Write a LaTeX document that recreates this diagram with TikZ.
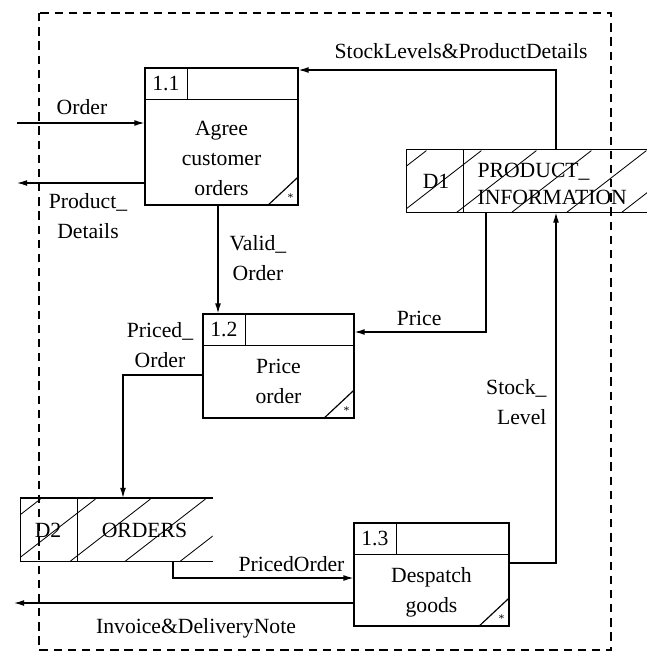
\documentclass[tikz,border=0pt]{standalone}
\usepackage{fontspec}
\setmainfont{Liberation Serif}
\usetikzlibrary{arrows.meta,calc}

\begin{document}
\begin{tikzpicture}[x=0.6pt, y=-0.6pt, font=\fontsize{13}{18}\selectfont,
  line width=0.7pt,
  flow/.style={-{Latex[length=6pt,width=3.5pt]}},
  procbox/.style={draw, inner sep=0pt},
  storebox/.style={inner sep=0pt, minimum height=37.2pt},
  hatch/.style={line width=0.5pt},
  lbl/.style={align=center, inner sep=0pt}]
  \useasboundingbox (0,0) rectangle (646,662);
  \draw[dash pattern=on 5pt off 3.5pt] (39,13) rectangle (611,650);

  \node[procbox, minimum width=91.8pt, minimum height=82.2pt] (p1) at (221.5,136.5) {};
  \node[procbox, minimum width=90.6pt, minimum height=62.4pt] (p2) at (278.5,366) {};
  \node[procbox, minimum width=93pt, minimum height=61.8pt] (p3) at (431.5,574.5) {};
  \foreach \p/\id in {p1/1.1, p2/1.2, p3/1.3} {
    \draw ($(\p.north west)+(0,32)$) -- ($(\p.north east)+(0,32)$);
    \draw ($(\p.north west)+(43,0)$) -- ($(\p.north west)+(43,32)$);
    \node (\p id) at ($(\p.north west)+(21.5,16)$) {\id};
    \draw ($(\p.south east)+(-31,0)$) -- ($(\p.south east)+(0,-29)$);
    \node[font=\scriptsize, inner sep=0pt] (\p star) at ($(\p.south east)+(-8,-8)$) {*};
  }
  \node[lbl] (t1) at (221.5,158) {Agree\\customer\\orders};
  \node[lbl] (t2) at (278.5,381) {Price\\order};
  \node[lbl] (t3) at (431.5,592) {Despatch\\goods};

  \node[storebox, minimum width=151.8pt] (d1) at (533.5,181) {};
  \node[storebox, minimum width=114.6pt] (d2) at (116.5,529.5) {};
  \foreach \d in {d1, d2} {
    \draw (\d.north east) -- (\d.north west) -- (\d.south west) -- (\d.south east);
    \draw ($(\d.north west)+(57,0)$) -- ($(\d.south west)+(57,0)$);
    \begin{scope}
      \clip (\d.north west) rectangle (\d.south east);
      \foreach \k in {-60,-5,...,260}
        \draw[hatch] ($(\d.south west)+(\k,0)$) -- ++(80,-62);
    \end{scope}
  }
  \node (d1id) at (436,181) {D1};
  \node[anchor=west, align=left, font=\fontsize{13}{16}\selectfont, inner sep=0pt] (d1txt) at (477,184) {PRODUCT\_\\INFORMATION};
  \node (d2id) at (48,530) {D2};
  \node (d2txt) at (144.5,530) {ORDERS};

  \coordinate (ordin) at (17,123);
  \draw[flow] (ordin) -- (ordin -| p1.west);
  \coordinate (pdout) at (17,183);
  \draw[flow] (pdout -| p1.west) -- (pdout);
  \coordinate (vo) at (218,0);
  \draw[flow] (vo |- p1.south) -- (vo |- p2.north);
  \coordinate (sl) at (556,70);
  \draw[flow] (sl |- d1.north) -- (sl) -- (sl -| p1.east);
  \coordinate (pr) at (486,332);
  \draw[flow] (pr |- d1.south) -- (pr) -- (pr -| p2.east);
  \coordinate (sk) at (556,563);
  \draw[flow] (sk -| p3.east) -- (sk) -- (sk |- d1.south);
  \coordinate (po) at (123,375);
  \draw[flow] (po -| p2.west) -- (po) -- (po |- d2.north);
  \coordinate (po2) at (173,578);
  \draw[flow] (po2 |- d2.south) -- (po2) -- (po2 -| p3.west);
  \coordinate (inv) at (14,603);
  \draw[flow] (inv -| p3.west) -- (inv);

  \node[lbl] (lorder) at (82,107) {Order};
  \node[lbl] (lpd) at (88,216) {Product\_\\Details};
  \node[lbl] (lvo) at (258,258) {Valid\_\\Order};
  \node[lbl, anchor=east] (lsl) at (588,51) {StockLevels\&ProductDetails};
  \node[lbl, anchor=east] (lpr) at (442,318) {Price};
  \node[lbl, align=right, anchor=east] (lsk) at (547,402) {Stock\_\\Level};
  \node[lbl] (lpo) at (160,345) {Priced\_\\Order};
  \node[lbl, anchor=east] (lpo2) at (345,564) {PricedOrder};
  \node[lbl] (linv) at (196,628) {Invoice\&DeliveryNote};
\end{tikzpicture}
\end{document}
